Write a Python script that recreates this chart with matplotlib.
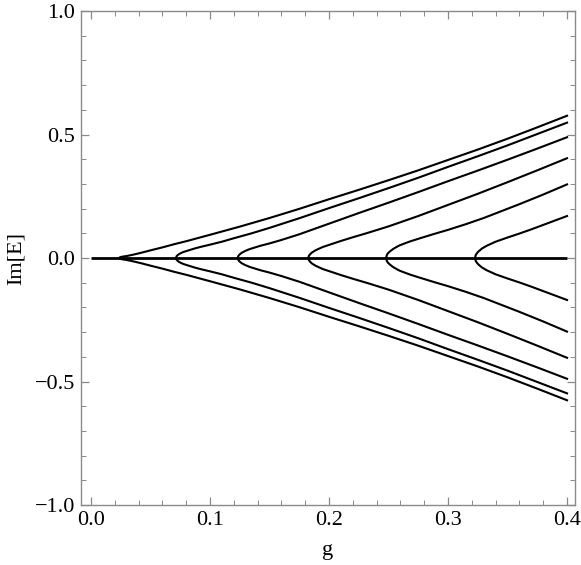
import matplotlib
matplotlib.use("Agg")
import matplotlib.pyplot as plt
from matplotlib.ticker import MultipleLocator, FuncFormatter

# Im[E] of the complex-conjugate pairs
# (upper branch; the lower branch is its mirror image)
g1 = [0.0238, 0.0242, 0.025, 0.027, 0.030, 0.035, 0.042, 0.05, 0.06, 0.07, 0.08, 0.09,
      0.1, 0.125, 0.15, 0.175, 0.2, 0.225, 0.25, 0.275, 0.3, 0.325, 0.35, 0.375, 0.4]
im1 = [0.0, 0.002, 0.004, 0.006, 0.008, 0.013, 0.021, 0.031, 0.043, 0.056, 0.068, 0.081,
       0.094, 0.127, 0.162, 0.199, 0.238, 0.276, 0.315, 0.355, 0.397, 0.439, 0.483, 0.529, 0.576]

g2 = [0.0714, 0.0719, 0.0729, 0.0744, 0.0774, 0.0814, 0.0874, 0.093, 0.1, 0.11, 0.12, 0.135,
      0.15, 0.175, 0.2, 0.225, 0.25, 0.275, 0.3, 0.325, 0.35, 0.375, 0.4]
im2 = [0.0, 0.007, 0.012, 0.017, 0.024, 0.030, 0.039, 0.046, 0.054, 0.066, 0.080, 0.100,
       0.122, 0.161, 0.202, 0.242, 0.283, 0.325, 0.369, 0.412, 0.456, 0.502, 0.548]

g3 = [0.1233, 0.1238, 0.1248, 0.1263, 0.1293, 0.1333, 0.142, 0.15, 0.16, 0.175, 0.2, 0.225,
      0.25, 0.275, 0.3, 0.325, 0.35, 0.375, 0.4]
im3 = [0.0, 0.008, 0.014, 0.020, 0.028, 0.036, 0.049, 0.059, 0.073, 0.096, 0.139, 0.182,
       0.224, 0.267, 0.311, 0.354, 0.398, 0.443, 0.489]

g4 = [0.1826, 0.1831, 0.1841, 0.1856, 0.1886, 0.1926, 0.195, 0.2, 0.21, 0.22, 0.232, 0.25,
      0.275, 0.3, 0.325, 0.35, 0.375, 0.4]
im4 = [0.0, 0.009, 0.015, 0.022, 0.031, 0.040, 0.045, 0.053, 0.069, 0.084, 0.101, 0.128,
       0.170, 0.215, 0.260, 0.307, 0.355, 0.404]

g5 = [0.248, 0.2485, 0.2495, 0.251, 0.254, 0.258, 0.2597, 0.268, 0.2765, 0.288, 0.3, 0.315,
      0.33, 0.345, 0.36, 0.38, 0.4]
im5 = [0.0, 0.011, 0.019, 0.026, 0.037, 0.048, 0.052, 0.067, 0.080, 0.097, 0.114, 0.137,
       0.162, 0.190, 0.218, 0.257, 0.298]

g6 = [0.3227, 0.3232, 0.3242, 0.3257, 0.3287, 0.3327, 0.34, 0.35, 0.36, 0.37, 0.38, 0.39, 0.4]
im6 = [0.0, 0.011, 0.019, 0.027, 0.039, 0.050, 0.066, 0.083, 0.099, 0.116, 0.134, 0.152, 0.170]

# real eigenvalues (Im = 0) over the whole range
g_real = [0.0, 0.4]
im_real = [0.0, 0.0]

branches = [(g1, im1), (g2, im2), (g3, im3), (g4, im4), (g5, im5), (g6, im6)]

plt.rcParams["font.family"] = ["Liberation Serif", "DejaVu Serif"]
plt.rcParams["font.size"] = 16

fig = plt.figure(figsize=(5.81, 5.65), dpi=100)
ax = fig.add_axes([0.1394, 0.1062, 0.8503, 0.8743])

ax.plot(g_real, im_real, color="black", lw=2.0, solid_capstyle="butt")
for g, im in branches:
    ax.plot(g, im, color="black", lw=1.5)
    ax.plot(g, [-v for v in im], color="black", lw=1.5)

ax.set_xlim(-0.0084, 0.4067)
ax.set_ylim(-1.0, 1.0)

ax.xaxis.set_major_locator(MultipleLocator(0.1))
ax.xaxis.set_minor_locator(MultipleLocator(0.02))
ax.yaxis.set_major_locator(MultipleLocator(0.5))
ax.yaxis.set_minor_locator(MultipleLocator(0.1))

fmt = FuncFormatter(lambda v, pos: f"{v:.1f}".replace("-", "\u2212"))
ax.xaxis.set_major_formatter(fmt)
ax.yaxis.set_major_formatter(fmt)

frame = "#8a8a8a"
for sp in ax.spines.values():
    sp.set_color(frame)
    sp.set_linewidth(1.0)
ax.tick_params(which="both", direction="in", top=True, right=True, color=frame, labelcolor="black")
ax.tick_params(which="major", length=6, width=0.9)
ax.tick_params(which="minor", length=3.5, width=0.7)
ax.tick_params(axis="x", pad=4)
ax.tick_params(axis="y", pad=4)

ax.set_xlabel("g", labelpad=8)
ax.set_ylabel("Im[E]", labelpad=7)

fig.savefig("out.png", dpi=100)
